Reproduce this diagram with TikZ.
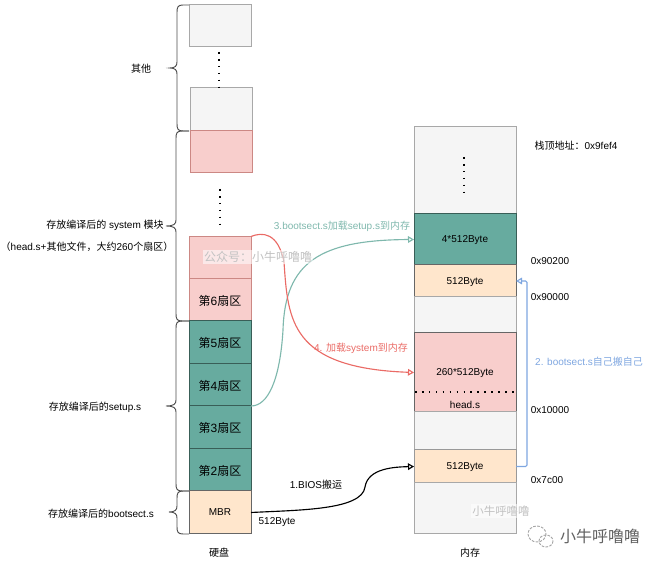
\documentclass[tikz,border=0pt]{standalone}
\usepackage{fontspec}
\setmainfont{Liberation Sans}
\newfontfamily\cjk{Noto Sans CJK SC}
\usetikzlibrary{arrows.meta}
\newcommand{\cj}[1]{{\cjk #1}}
\def\u{0.75pt}
\definecolor{grayfill}{HTML}{F5F5F5}
\definecolor{grayline}{HTML}{A8A8A8}
\definecolor{greenfill}{HTML}{67AB9F}
\definecolor{redfill}{HTML}{F8CECC}
\definecolor{redline}{HTML}{CC8884}
\definecolor{orangefill}{HTML}{FFE6CC}
\definecolor{greentext}{HTML}{7FB8AD}
\definecolor{redtext}{HTML}{EA6B66}
\definecolor{bluetext}{HTML}{7EA6E0}
\tikzset{
  cell/.style={draw=#1,line width=0.75pt,anchor=north west,inner sep=0pt,outer sep=0pt,text=black,text depth=0pt,font=\fontsize{7.5pt}{9pt}\selectfont},
  greycell/.style={cell=grayline,fill=grayfill},
  pinkcell/.style={cell=redline,fill=redfill},
  greencell/.style={cell=black!45!greenfill,fill=greenfill},
  peachcell/.style={cell=black!60,fill=orangefill},
  bigtext/.style={font=\fontsize{9pt}{11pt}\selectfont},
  lab/.style={inner sep=0pt,outer sep=0pt,text depth=0pt,font=\fontsize{7.5pt}{9pt}\selectfont,text=black},
  wmark/.style={inner sep=1pt,outer sep=0pt,font=\fontsize{9pt}{11pt}\selectfont,text=black!24,fill=white,fill opacity=0.55,text opacity=1},
  dots/.style={line width=1pt,dash pattern=on 1.2pt off 4pt,black},
  link/.style={line width=0.85pt,-{Triangle[open,length=4.5pt,width=5pt]}},
  bracket/.style={line width=0.7pt,black!70},
}
\newcommand{\curly}[6]{\draw[bracket] (#3,#4) -- (#2+6,#4) .. controls (#2+1,#4) and (#2,#4+2) .. (#2,#4+7) -- (#2,#5-6) .. controls (#2,#5-2) and (#2-2,#5) .. (#1,#5) .. controls (#2-2,#5) and (#2,#5+2) .. (#2,#5+6) -- (#2,#6-7) .. controls (#2,#6-2) and (#2+1,#6) .. (#2+6,#6) -- (#3,#6);}
\begin{document}
\begin{tikzpicture}[x=0.75pt,y=-0.75pt]
\useasboundingbox (0,0) rectangle (661,566);
% disk
\node[greycell,minimum width=62*\u,minimum height=42*\u] (d1) at (189,5) {};
\node[greycell,minimum width=62*\u,minimum height=43*\u] (d2) at (190,88) {};
\node[pinkcell,minimum width=62*\u,minimum height=42*\u] (d3) at (190,131) {};
\node[pinkcell,minimum width=62*\u,minimum height=42.5*\u] (s7) at (189,236.5) {};
\node[pinkcell,bigtext,minimum width=62*\u,minimum height=42*\u] (s6) at (189,279) {\cj{第}6\cj{扇区}};
\node[greencell,bigtext,minimum width=62*\u,minimum height=43*\u] (s5) at (189,321) {\cj{第}5\cj{扇区}};
\node[greencell,bigtext,minimum width=62*\u,minimum height=42*\u] (s4) at (189,364) {\cj{第}4\cj{扇区}};
\node[greencell,bigtext,minimum width=62*\u,minimum height=43*\u] (s3) at (189,406) {\cj{第}3\cj{扇区}};
\node[greencell,bigtext,minimum width=62*\u,minimum height=42*\u] (s2) at (189,449) {\cj{第}2\cj{扇区}};
\node[peachcell,minimum width=62*\u,minimum height=43*\u] (mbr) at (189,491) {MBR};
% memory
\node[greycell,minimum width=102*\u,minimum height=87*\u] (m0) at (414,127) {};
\node[greencell,minimum width=102*\u,minimum height=51*\u] (m1) at (414,214) {4*512Byte};
\node[peachcell,minimum width=102*\u,minimum height=32*\u] (m2) at (414,265) {512Byte};
\node[greycell,minimum width=102*\u,minimum height=36*\u] (m3) at (414,297) {};
\node[pinkcell,draw=black!60,minimum width=102*\u,minimum height=79*\u] (m4) at (414,333) {260*512Byte};
\node[greycell,minimum width=102*\u,minimum height=38*\u] (m5) at (414,412) {};
\node[peachcell,draw=black!40,minimum width=102*\u,minimum height=33*\u] (m7) at (414,450) {512Byte};
\node[greycell,minimum width=102*\u,minimum height=51*\u] (m8) at (414,483) {};
\node[lab] (heads) at (465,405) {head.s};
% dots
\coordinate (da) at (219,52); \coordinate (db) at (219,88);
\coordinate (dc) at (220,189); \coordinate (dd) at (220,226);
\coordinate (de) at (464,157); \coordinate (df) at (464,194);
\coordinate (dg) at (415,392); \coordinate (dh) at (515,392);
\draw[dots] (da) -- (db);
\draw[dots] (dc) -- (dd);
\draw[dots] (de) -- (df);
\draw[dots] (dg) -- (dh);
% braces
\curly{170}{177}{189}{5}{68}{131}
\curly{166}{176}{189}{131}{226}{321}
\curly{166}{176}{189}{321}{406}{491}
\curly{169}{177}{189}{491}{512}{534}
% connectors
\coordinate (bl) at (527,374);
\draw[link,greentext] (s4.south east) .. controls (268,406) and (280,380) .. (283,330) .. controls (285,262) and (320,240) .. (m1.west);
\draw[link,redtext] (s7.north east) .. controls (262,232) and (278,232) .. (284,262) .. controls (288,320) and (290,368) .. (m4.west);
\draw[link,black] (mbr.east) .. controls (300,510) and (362,510) .. (365,487) .. controls (368,468) and (395,467) .. (m7.west);
\draw[link,bluetext,rounded corners=1pt] (m7.east) -| (bl) |- (m2.east);
% labels
\node[lab] (t1) at (141,68) {\cj{其他}};
\node[lab] (t2) at (105,224) {\cj{存放编译后的} system \cj{模块}};
\node[lab] (t3) at (87,246) {\cj{（}head.s+\cj{其他文件，大约}260\cj{个扇区）}};
\node[lab] (t4) at (95,406) {\cj{存放编译后的}setup.s};
\node[lab] (t5) at (101,513) {\cj{存放编译后的}bootsect.s};
\node[lab] (t6) at (219,552) {\cj{硬盘}};
\node[lab] (t7) at (470,552) {\cj{内存}};
\node[lab] (t8) at (277,521) {512Byte};
\node[lab] (t9) at (316,484) {1.BIOS\cj{搬运}};
\node[lab,text=greentext] (t10) at (342,225) {3.bootsect.s\cj{加载}setup.s\cj{到内存}};
\node[lab,text=redtext] (t11) at (361,347) {4. \cj{加载}system\cj{到内存}};
\node[lab,text=bluetext] (t12) at (589,361) {2. bootsect.s\cj{自己搬自己}};
\node[lab] (a1) at (550,261) {0x90200};
\node[lab] (a2) at (550,297) {0x90000};
\node[lab] (a3) at (550,410) {0x10000};
\node[lab] (a4) at (547,480) {0x7c00};
\node[lab] (a5) at (576,145) {\cj{栈顶地址：}0x9fef4};
% watermarks
\node[wmark] (w1) at (258,257) {\cj{公众号：小牛呼噜噜}};
\node[wmark,font=\fontsize{8.6pt}{10pt}\selectfont] (w2) at (501,511) {\cj{小牛呼噜噜}};
\node[inner sep=0pt,font=\fontsize{12pt}{14pt}\selectfont,text=black!62] (w3) at (600,536) {\cj{小牛呼噜噜}};
\draw[black!35,line width=0.7pt,dash pattern=on 2pt off 1pt] (537,534) ellipse [x radius=9,y radius=8];
\draw[black!35,line width=0.7pt,dash pattern=on 2pt off 1pt] (546,541) ellipse [x radius=7,y radius=6];
\end{tikzpicture}
\end{document}
